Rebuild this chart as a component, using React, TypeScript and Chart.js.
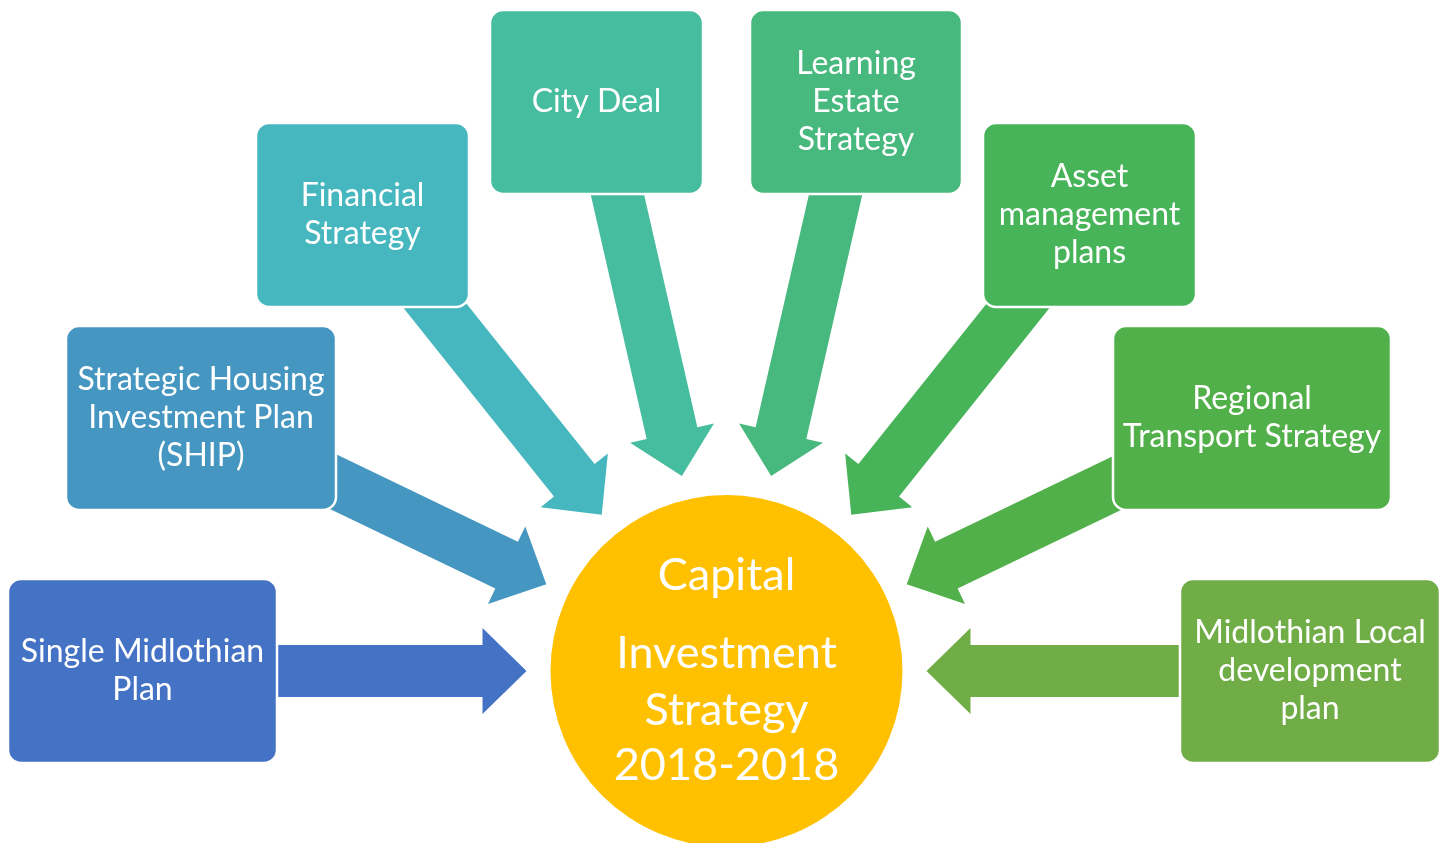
import React, { useEffect, useRef } from "react";
import { Chart, registerables } from "chart.js";

Chart.register(...registerables);

// ---- Data (diagram coordinates in data units; x: 0..1448, y: 0..843 downward) ----
const nodeLabels: string[][] = [
  ["Single Midlothian", "Plan"],
  ["Strategic Housing", "Investment Plan", "(SHIP)"],
  ["Financial", "Strategy"],
  ["City Deal"],
  ["Learning", "Estate", "Strategy"],
  ["Asset", "management", "plans"],
  ["Regional", "Transport Strategy"],
  ["Midlothian Local", "development", "plan"],
];
const nodeLeft = [8, 66, 256, 490, 750, 983, 1113, 1180];
const nodeRight = [277, 336, 469, 703, 962, 1196, 1391, 1440];
const nodeTop = [579, 326, 123, 10, 10, 123, 326, 579];
const nodeBottom = [763, 510, 307, 194, 194, 307, 510, 763];
const arrowAngles = [180, 154.3, 128.6, 102.9, 77.1, 51.4, 25.7, 0];
const arrowTipRadius = 200;
const arrowTailRadius = 520;
const hubCenter = [726.5, 671];
const hubRadius = 176;
const hubLines = ["Capital", "Investment", "Strategy", "2018-2018"];

// ---- Styles ----
const nodeColors = [
  "#4472C4",
  "#4596C0",
  "#46B7BF",
  "#47BDA0",
  "#48B97E",
  "#48B45A",
  "#51B049",
  "#70AD47",
];
const hubColor = "#FFC000";
const FONT = "Lato, 'Open Sans', sans-serif";
const SHAFT_W = 52;
const HEAD_W = 86;
const HEAD_L = 44;
const CORNER = 13;
const NODE_FONT_PX = 32;
const NODE_LINE_H = 38;
const HUB_FONT_PX = 45;
const HUB_LINE_OFFSETS = [-96, -18, 39, 94];

function roundRect(ctx: CanvasRenderingContext2D, x0: number, y0: number, x1: number, y1: number, r: number) {
  ctx.beginPath();
  ctx.moveTo(x0 + r, y0);
  ctx.lineTo(x1 - r, y0);
  ctx.arcTo(x1, y0, x1, y0 + r, r);
  ctx.lineTo(x1, y1 - r);
  ctx.arcTo(x1, y1, x1 - r, y1, r);
  ctx.lineTo(x0 + r, y1);
  ctx.arcTo(x0, y1, x0, y1 - r, r);
  ctx.lineTo(x0, y0 + r);
  ctx.arcTo(x0, y0, x0 + r, y0, r);
  ctx.closePath();
}

const diagramPlugin = {
  id: "diagram",
  afterDatasetsDraw(chart: any) {
    const ctx: CanvasRenderingContext2D = chart.ctx;
    const xs = chart.scales.x;
    const ys = chart.scales.y;
    const px = (v: number) => xs.getPixelForValue(v);
    const py = (v: number) => ys.getPixelForValue(v);
    ctx.save();

    // arrows
    arrowAngles.forEach((deg, i) => {
      const a = (deg * Math.PI) / 180;
      const dx = Math.cos(a);
      const dy = -Math.sin(a);
      const tip = [px(hubCenter[0] + dx * arrowTipRadius), py(hubCenter[1] + dy * arrowTipRadius)];
      const tail = [px(hubCenter[0] + dx * arrowTailRadius), py(hubCenter[1] + dy * arrowTailRadius)];
      let ux = tip[0] - tail[0];
      let uy = tip[1] - tail[1];
      const L = Math.hypot(ux, uy);
      ux /= L;
      uy /= L;
      const nx = -uy;
      const ny = ux;
      const hb = [tip[0] - ux * HEAD_L, tip[1] - uy * HEAD_L];
      ctx.beginPath();
      ctx.moveTo(tail[0] + nx * SHAFT_W / 2, tail[1] + ny * SHAFT_W / 2);
      ctx.lineTo(hb[0] + nx * SHAFT_W / 2, hb[1] + ny * SHAFT_W / 2);
      ctx.lineTo(hb[0] + nx * HEAD_W / 2, hb[1] + ny * HEAD_W / 2);
      ctx.lineTo(tip[0], tip[1]);
      ctx.lineTo(hb[0] - nx * HEAD_W / 2, hb[1] - ny * HEAD_W / 2);
      ctx.lineTo(hb[0] - nx * SHAFT_W / 2, hb[1] - ny * SHAFT_W / 2);
      ctx.lineTo(tail[0] - nx * SHAFT_W / 2, tail[1] - ny * SHAFT_W / 2);
      ctx.closePath();
      ctx.fillStyle = nodeColors[i];
      ctx.fill();
    });

    // boxes
    nodeLabels.forEach((lines, i) => {
      const x0 = px(nodeLeft[i]);
      const x1 = px(nodeRight[i]);
      const y0 = py(nodeTop[i]);
      const y1 = py(nodeBottom[i]);
      roundRect(ctx, x0, y0, x1, y1, CORNER);
      ctx.fillStyle = nodeColors[i];
      ctx.fill();
      ctx.lineWidth = 2.5;
      ctx.strokeStyle = "#FFFFFF";
      ctx.stroke();
      ctx.fillStyle = "#FFFFFF";
      ctx.font = `${NODE_FONT_PX}px ${FONT}`;
      ctx.textAlign = "center";
      ctx.textBaseline = "middle";
      const cx = (x0 + x1) / 2;
      const cy = (y0 + y1) / 2;
      const n = lines.length;
      lines.forEach((t, k) => {
        ctx.fillText(t, cx, cy + (k - (n - 1) / 2) * NODE_LINE_H);
      });
    });

    // hub
    const hx = px(hubCenter[0]);
    const hy = py(hubCenter[1]);
    const hr = px(hubCenter[0] + hubRadius) - hx;
    ctx.beginPath();
    ctx.arc(hx, hy, hr, 0, Math.PI * 2);
    ctx.fillStyle = hubColor;
    ctx.fill();
    ctx.fillStyle = "#FFFFFF";
    ctx.font = `${HUB_FONT_PX}px ${FONT}`;
    ctx.textAlign = "center";
    ctx.textBaseline = "middle";
    hubLines.forEach((t, k) => {
      ctx.fillText(t, hx, hy + HUB_LINE_OFFSETS[k]);
    });
    ctx.restore();
  },
};

export default function App() {
  const canvasRef = useRef<HTMLCanvasElement | null>(null);

  useEffect(() => {
    document.body.style.margin = "0";
    const canvas = canvasRef.current;
    if (!canvas) return;
    const centers = nodeLabels.map((_, i) => ({
      x: (nodeLeft[i] + nodeRight[i]) / 2,
      y: (nodeTop[i] + nodeBottom[i]) / 2,
    }));
    const chart = new Chart(canvas, {
      type: "scatter",
      data: {
        datasets: [
          {
            label: "nodes",
            data: [...centers, { x: hubCenter[0], y: hubCenter[1] }],
            pointRadius: 0,
            pointHoverRadius: 0,
          },
        ],
      },
      options: {
        animation: false,
        responsive: true,
        maintainAspectRatio: false,
        events: [],
        layout: { padding: 0 },
        plugins: { legend: { display: false }, tooltip: { enabled: false } },
        scales: {
          x: { type: "linear", min: 0, max: 1448, display: false },
          y: { type: "linear", min: 0, max: 843, reverse: true, display: false },
        },
      },
      plugins: [diagramPlugin],
    });
    return () => chart.destroy();
  }, []);

  return (
    <div style={{ position: "relative", width: 1448, height: 843, background: "#FFFFFF" }}>
      <canvas ref={canvasRef} />
    </div>
  );
}
